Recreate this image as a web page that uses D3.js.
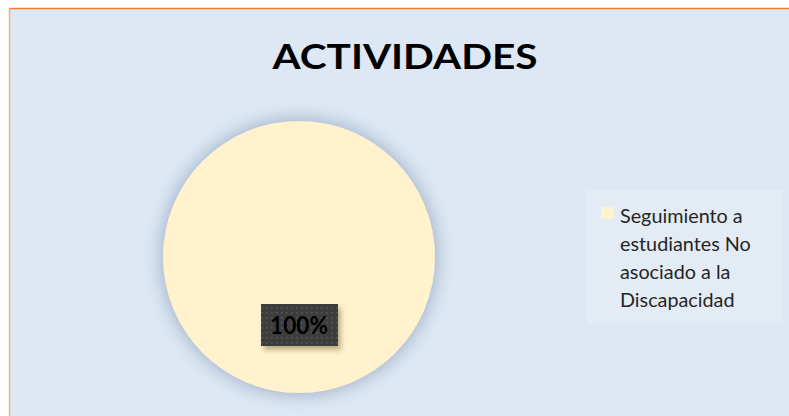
<!DOCTYPE html>
<html>
<head>
<meta charset="utf-8">
<script src="https://cdn.jsdelivr.net/npm/d3@7"></script>
<style>
  body { margin: 0; background: #fff; }
  svg { display: block; }
</style>
</head>
<body>
<div id="chart"></div>
<script>
// data
var categories = ["Seguimiento a estudiantes No asociado a la Discapacidad"];
var values = [100];
var legendLines = ["Seguimiento a", "estudiantes No", "asociado a la", "Discapacidad"];
var title = "ACTIVIDADES";

var width = 789, height = 416;
var colors = d3.scaleOrdinal().domain(categories).range(["#FFF2CC"]);

var svg = d3.select("#chart").append("svg")
  .attr("width", width).attr("height", height);

var defs = svg.append("defs");
var shadow = defs.append("filter").attr("id", "pieShadow")
  .attr("x", "-30%").attr("y", "-30%").attr("width", "160%").attr("height", "160%");
shadow.append("feGaussianBlur").attr("in", "SourceAlpha").attr("stdDeviation", 10).attr("result", "b");
shadow.append("feFlood").attr("flood-color", "#7F95B2").attr("flood-opacity", 0.8);
shadow.append("feComposite").attr("in2", "b").attr("operator", "in").attr("result", "s");
var m = shadow.append("feMerge");
m.append("feMergeNode").attr("in", "s");
m.append("feMergeNode").attr("in", "SourceGraphic");

var lblShadow = defs.append("filter").attr("id", "lblShadow")
  .attr("x", "-30%").attr("y", "-30%").attr("width", "160%").attr("height", "180%");
lblShadow.append("feGaussianBlur").attr("in", "SourceAlpha").attr("stdDeviation", 2.5).attr("result", "b");
lblShadow.append("feOffset").attr("dx", 3).attr("dy", 4).attr("result", "o");
lblShadow.append("feFlood").attr("flood-color", "#5a4a20").attr("flood-opacity", 0.4);
lblShadow.append("feComposite").attr("in2", "o").attr("operator", "in").attr("result", "s");
var m2 = lblShadow.append("feMerge");
m2.append("feMergeNode").attr("in", "s");
m2.append("feMergeNode").attr("in", "SourceGraphic");

var pat = defs.append("pattern").attr("id", "dots")
  .attr("patternUnits", "userSpaceOnUse").attr("width", 5).attr("height", 5);
pat.append("rect").attr("width", 5).attr("height", 5).attr("fill", "#3D3D3D");
pat.append("rect").attr("x", 2).attr("y", 2).attr("width", 1.5).attr("height", 1.5).attr("fill", "#585858");

// chart area background + border
svg.append("rect").attr("x", 10).attr("y", 9).attr("width", width).attr("height", height)
  .attr("fill", "#DEE8F4");
svg.append("line").attr("x1", 9).attr("x2", width).attr("y1", 8.5).attr("y2", 8.5)
  .attr("stroke", "#ED7D31").attr("stroke-width", 1.5);
svg.append("line").attr("x1", 9.5).attr("x2", 9.5).attr("y1", 8).attr("y2", height)
  .attr("stroke", "#F4B183").attr("stroke-width", 1.5);

// title
svg.append("text")
  .attr("x", 405).attr("y", 69)
  .attr("text-anchor", "middle")
  .attr("font-family", "Lato, 'Open Sans', sans-serif")
  .attr("font-weight", "bold")
  .attr("font-size", 34)
  .attr("textLength", 265).attr("lengthAdjust", "spacingAndGlyphs")
  .attr("fill", "#000")
  .text(title);

// pie
var cx = 299, cy = 257, r = 136;
var pie = d3.pie().sort(null);
var arc = d3.arc().innerRadius(0).outerRadius(r);
var g = svg.append("g").attr("transform", "translate(" + cx + "," + cy + ")");
var arcs = pie(values);
g.selectAll("path").data(arcs).enter().append("path")
  .attr("d", arc)
  .attr("fill", function(d, i) { return colors(categories[i]); })
  .attr("filter", "url(#pieShadow)");

// data label
var total = d3.sum(values);
var lbl = g.selectAll("g.lbl").data(arcs).enter().append("g").attr("class", "lbl")
  .attr("transform", "translate(0,68)");
lbl.append("rect")
  .attr("x", -38).attr("y", -21).attr("width", 77).attr("height", 42)
  .attr("fill", "url(#dots)")
  .attr("filter", "url(#lblShadow)");
lbl.append("text")
  .attr("text-anchor", "middle").attr("y", 9)
  .attr("font-family", "Lato, 'Open Sans', sans-serif")
  .attr("font-weight", "bold").attr("font-size", 24)
  .attr("textLength", 58).attr("lengthAdjust", "spacingAndGlyphs")
  .attr("fill", "#000")
  .text(function(d) { return Math.round(d.value / total * 100) + "%"; });

// legend
var legend = svg.append("g").attr("transform", "translate(587,190)");
legend.append("rect").attr("width", 196).attr("height", 133).attr("fill", "#E3EBF5");
legend.append("rect").attr("x", 14).attr("y", 17).attr("width", 12).attr("height", 12)
  .attr("fill", colors(categories[0]));
legend.selectAll("text").data(legendLines).enter().append("text")
  .attr("x", 33)
  .attr("y", function(d, i) { return 33 + i * 28; })
  .attr("font-family", "Lato, 'Open Sans', sans-serif")
  .attr("font-size", 19.8)
  .attr("fill", "#262626")
  .text(function(d) { return d; });
</script>
</body>
</html>
